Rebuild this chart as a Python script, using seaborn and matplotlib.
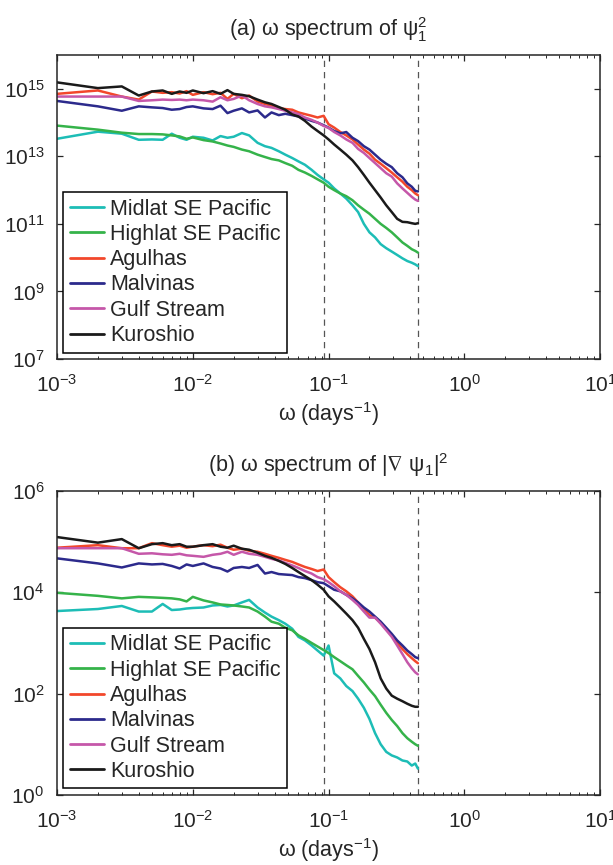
import numpy as np
import pandas as pd
import matplotlib
matplotlib.use('Agg')
import matplotlib.pyplot as plt
import seaborn as sns

# frequency (days^-1), same for every series
freq = [0.001, 0.002, 0.003, 0.004, 0.005, 0.006, 0.007, 0.008, 0.009, 0.010,
        0.012, 0.014, 0.016, 0.018, 0.020, 0.023, 0.026, 0.030, 0.034, 0.038,
        0.043, 0.048, 0.054, 0.060, 0.067, 0.075, 0.083, 0.092, 0.100, 0.110,
        0.122, 0.135, 0.150, 0.165, 0.182, 0.200, 0.220, 0.242, 0.266, 0.292,
        0.320, 0.350, 0.380, 0.410, 0.435, 0.455]

regions = ['Midlat SE Pacific', 'Highlat SE Pacific', 'Agulhas', 'Malvinas',
           'Gulf Stream', 'Kuroshio']
colors = ['#1dbdb6', '#35b34a', '#f2472b', '#2c2a8c', '#c557a9', '#1a1a1a']

# (a) log10 of psi_1^2 spectrum
midlat_a = [13.52, 13.73, 13.67, 13.49, 13.50, 13.49, 13.67, 13.55, 13.49, 13.58,
            13.55, 13.47, 13.60, 13.55, 13.58, 13.69, 13.62, 13.40, 13.30, 13.25,
            13.15, 13.05, 12.95, 12.85, 12.75, 12.60, 12.45, 12.32, 12.22, 12.05,
            11.90, 11.75, 11.55, 11.35, 11.00, 10.75, 10.60, 10.40, 10.28, 10.18,
            10.08, 9.98, 9.90, 9.85, 9.80, 9.75]
highlat_a = [13.91, 13.79, 13.70, 13.66, 13.66, 13.65, 13.62, 13.59, 13.52, 13.56,
             13.48, 13.44, 13.38, 13.32, 13.28, 13.20, 13.15, 13.05, 12.98, 12.92,
             12.88, 12.80, 12.72, 12.60, 12.52, 12.42, 12.32, 12.22, 12.10, 12.00,
             11.90, 11.82, 11.70, 11.55, 11.42, 11.30, 11.15, 11.00, 10.88, 10.75,
             10.60, 10.45, 10.35, 10.25, 10.20, 10.15]
agulhas_a = [14.85, 14.95, 14.77, 14.68, 14.92, 14.88, 14.90, 14.86, 14.93, 14.82,
             14.90, 14.84, 14.88, 14.70, 14.85, 14.72, 14.80, 14.62, 14.55, 14.50,
             14.43, 14.40, 14.38, 14.30, 14.25, 14.20, 14.15, 14.20, 13.95, 13.85,
             13.72, 13.62, 13.50, 13.35, 13.20, 13.08, 12.90, 12.78, 12.65, 12.52,
             12.38, 12.25, 12.10, 12.00, 11.90, 11.85]
malvinas_a = [14.64, 14.48, 14.35, 14.48, 14.45, 14.43, 14.38, 14.40, 14.46, 14.48,
              14.42, 14.40, 14.50, 14.28, 14.35, 14.42, 14.30, 14.36, 14.15, 14.30,
              14.22, 14.26, 14.22, 14.18, 14.12, 14.05, 14.00, 13.92, 13.85, 13.75,
              13.68, 13.72, 13.55, 13.45, 13.30, 13.20, 13.05, 12.90, 12.78, 12.68,
              12.50, 12.38, 12.20, 12.10, 11.98, 11.96]
gulf_a = [14.77, 14.77, 14.77, 14.64, 14.66, 14.68, 14.67, 14.68, 14.66, 14.68,
          14.66, 14.62, 14.75, 14.66, 14.70, 14.80, 14.66, 14.55, 14.48, 14.45,
          14.40, 14.35, 14.30, 14.25, 14.15, 14.08, 14.00, 13.90, 13.84, 13.72,
          13.62, 13.50, 13.40, 13.22, 13.10, 12.95, 12.80, 12.65, 12.50, 12.40,
          12.20, 12.05, 11.92, 11.80, 11.72, 11.68]
kuroshio_a = [15.19, 15.02, 15.07, 14.80, 14.92, 14.95, 14.85, 14.92, 14.88, 14.95,
              14.87, 14.93, 14.85, 14.96, 14.85, 14.82, 14.78, 14.68, 14.60, 14.55,
              14.46, 14.38, 14.24, 14.18, 14.05, 13.88, 13.75, 13.62, 13.50, 13.35,
              13.20, 13.05, 12.88, 12.68, 12.45, 12.22, 12.00, 11.78, 11.55, 11.35,
              11.15, 11.06, 11.05, 11.02, 11.00, 11.02]

# (b) log10 of |grad psi_1|^2 spectrum
midlat_b = [3.63, 3.67, 3.73, 3.62, 3.62, 3.77, 3.65, 3.66, 3.68, 3.69,
            3.70, 3.74, 3.75, 3.72, 3.74, 3.80, 3.85, 3.70, 3.60, 3.52,
            3.45, 3.38, 3.28, 3.12, 3.05, 2.95, 2.85, 2.75, 2.95, 2.40,
            2.30, 2.15, 2.05, 1.90, 1.72, 1.50, 1.22, 1.00, 0.85, 0.78,
            0.74, 0.68, 0.66, 0.58, 0.62, 0.52]
highlat_b = [3.99, 3.93, 3.88, 3.91, 3.90, 3.89, 3.88, 3.86, 3.82, 3.91,
             3.84, 3.80, 3.76, 3.75, 3.74, 3.72, 3.70, 3.62, 3.52, 3.42,
             3.38, 3.30, 3.25, 3.15, 3.08, 3.00, 2.93, 2.86, 2.80, 2.72,
             2.64, 2.56, 2.48, 2.35, 2.22, 2.08, 1.95, 1.78, 1.62, 1.48,
             1.36, 1.22, 1.12, 1.05, 1.00, 0.97]
agulhas_b = [4.88, 4.93, 4.87, 4.87, 4.97, 4.93, 4.90, 4.92, 4.88, 4.90,
             4.93, 4.91, 4.94, 4.88, 4.84, 4.86, 4.82, 4.80, 4.76, 4.72,
             4.68, 4.64, 4.60, 4.55, 4.50, 4.46, 4.42, 4.45, 4.30, 4.20,
             4.10, 4.02, 3.92, 3.80, 3.68, 3.55, 3.50, 3.40, 3.28, 3.15,
             3.00, 2.88, 2.78, 2.70, 2.64, 2.60]
malvinas_b = [4.67, 4.57, 4.49, 4.57, 4.55, 4.56, 4.52, 4.47, 4.55, 4.52,
              4.57, 4.50, 4.47, 4.41, 4.48, 4.50, 4.48, 4.54, 4.37, 4.40,
              4.36, 4.35, 4.34, 4.30, 4.28, 4.24, 4.20, 4.18, 4.12, 4.05,
              4.02, 3.95, 3.88, 3.80, 3.70, 3.62, 3.52, 3.42, 3.30, 3.18,
              3.05, 2.95, 2.85, 2.78, 2.72, 2.70]
gulf_b = [4.87, 4.87, 4.87, 4.76, 4.77, 4.75, 4.74, 4.76, 4.73, 4.72,
          4.70, 4.74, 4.76, 4.80, 4.74, 4.80, 4.76, 4.74, 4.70, 4.66,
          4.63, 4.58, 4.53, 4.48, 4.42, 4.37, 4.30, 4.26, 4.20, 4.12,
          4.02, 3.95, 3.85, 3.75, 3.62, 3.50, 3.50, 3.38, 3.25, 3.12,
          2.95, 2.78, 2.62, 2.50, 2.42, 2.38]
kuroshio_b = [5.09, 4.98, 5.05, 4.87, 4.95, 4.97, 4.93, 4.95, 4.90, 4.90,
              4.93, 4.95, 4.90, 4.88, 4.92, 4.86, 4.84, 4.78, 4.72, 4.68,
              4.62, 4.56, 4.48, 4.40, 4.32, 4.24, 4.15, 4.05, 3.92, 3.82,
              3.70, 3.58, 3.45, 3.30, 3.08, 2.88, 2.62, 2.30, 2.10, 1.96,
              1.90, 1.85, 1.80, 1.76, 1.74, 1.74]

dashed_freqs = [0.0925, 0.455]


def to_long(series):
    frames = []
    for name, vals in zip(regions, series):
        frames.append(pd.DataFrame({'freq': freq, 'power': 10.0 ** np.array(vals),
                                    'region': name}))
    return pd.concat(frames, ignore_index=True)


df_a = to_long([midlat_a, highlat_a, agulhas_a, malvinas_a, gulf_a, kuroshio_a])
df_b = to_long([midlat_b, highlat_b, agulhas_b, malvinas_b, gulf_b, kuroshio_b])

sns.set_style('ticks')
plt.rcParams['font.family'] = ['Liberation Sans', 'DejaVu Sans']
plt.rcParams['mathtext.fontset'] = 'custom'
plt.rcParams['mathtext.rm'] = 'Liberation Sans'
plt.rcParams['mathtext.it'] = 'Liberation Sans:italic'
plt.rcParams['axes.linewidth'] = 1.1

fs = 15.5
tick_fs = 15

fig = plt.figure(figsize=(6.13, 8.65), dpi=100)
ax_a = fig.add_axes([0.093, 0.585, 0.886, 0.3514])
ax_b = fig.add_axes([0.093, 0.081, 0.886, 0.3514])

panels = [
    (ax_a, df_a, (1e7, 1e16), [1e7, 1e9, 1e11, 1e13, 1e15],
     r'(a) ω spectrum of $\mathregular{\psi_1^2}$'),
    (ax_b, df_b, (1e0, 1e6), [1e0, 1e2, 1e4, 1e6],
     r'(b) ω spectrum of $\mathregular{|\nabla\ \psi_1|^2}$'),
]

for ax, df, ylim, yticks, title in panels:
    sns.lineplot(data=df, x='freq', y='power', hue='region', hue_order=regions,
                 palette=colors, estimator=None, linewidth=1.8, ax=ax)
    for xf in dashed_freqs:
        ax.axvline(xf, color='#555555', linestyle=(0, (5, 4)), linewidth=0.9, zorder=0)
    ax.set_xscale('log')
    ax.set_yscale('log')
    ax.set_xlim(1e-3, 1e1)
    ax.set_ylim(*ylim)
    ax.set_yticks(yticks)
    ax.yaxis.set_minor_locator(matplotlib.ticker.NullLocator())
    ax.xaxis.set_minor_locator(matplotlib.ticker.LogLocator(base=10, subs=np.arange(2, 10)))
    ax.tick_params(which='both', direction='in', top=True, right=True, labelsize=tick_fs)
    ax.tick_params(which='major', length=4, width=0.9)
    ax.tick_params(which='minor', length=2, width=0.7)
    ax.tick_params(axis='x', pad=11)
    ax.tick_params(axis='y', pad=9)
    ax.set_xlabel(r'ω (days$\mathregular{^{-1}}$)', fontsize=fs, labelpad=3)
    ax.set_ylabel('')
    ax.set_title(title, fontsize=fs, pad=14)
    handles, labels = ax.get_legend_handles_labels()
    leg = ax.legend(handles, labels, loc='lower left', fontsize=fs, frameon=True,
                    fancybox=False, edgecolor='black', framealpha=1,
                    handlelength=1.6, handletextpad=0.25, labelspacing=0.2,
                    borderaxespad=0.3, borderpad=0.3)
    leg.get_frame().set_linewidth(1.1)
    for line in leg.get_lines():
        line.set_linewidth(2.0)

fig.savefig('out.png', dpi=100)
